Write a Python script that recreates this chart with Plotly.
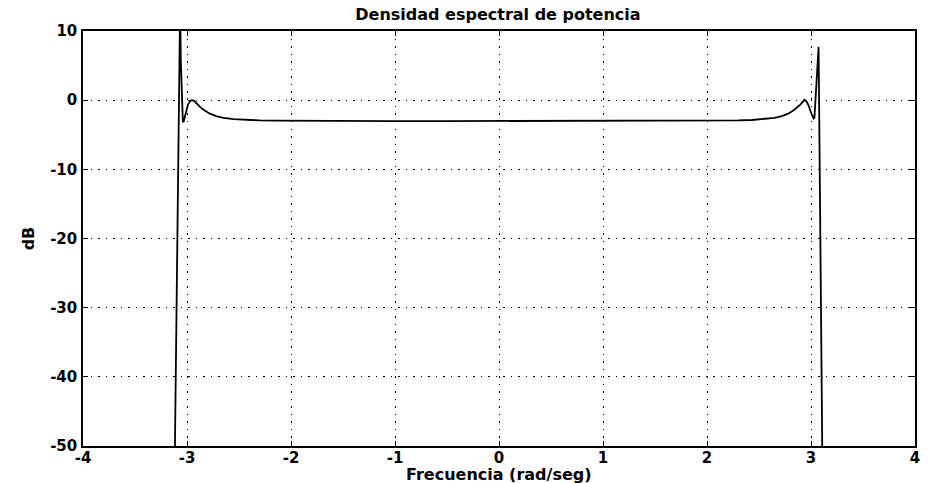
import plotly.graph_objects as go

freq = [-3.116, -3.066, -3.060, -3.050, -3.040, -3.034, -3.025, -3.010, -2.990,
        -2.965, -2.945, -2.925, -2.900, -2.870, -2.830, -2.780, -2.720, -2.650,
        -2.550, -2.430, -2.300, -2.150, -2.000, -1.500, -1.000, -0.500, 0.000,
        0.500, 1.000, 1.500, 2.000, 2.150, 2.300, 2.430, 2.550, 2.650, 2.720,
        2.780, 2.830, 2.870, 2.900, 2.920, 2.937, 2.955, 2.975, 2.995, 3.012,
        3.025, 3.033, 3.042, 3.055, 3.066, 3.073, 3.090, 3.108]
dB = [-50.0, 14.0, 6.0, -1.0, -3.0, -3.2, -2.7, -1.6, -0.6,
      -0.05, 0.0, -0.2, -0.6, -1.05, -1.5, -1.95, -2.3, -2.55,
      -2.75, -2.87, -2.93, -2.97, -2.99, -3.01, -3.02, -3.03, -3.03,
      -3.03, -3.02, -3.01, -2.99, -2.97, -2.93, -2.87, -2.75, -2.55, -2.3,
      -1.95, -1.5, -1.05, -0.6, -0.25, 0.05, -0.15, -0.7, -1.6, -2.3,
      -2.65, -2.55, -0.5, 3.5, 6.5, 7.7, -20.0, -50.0]

xticks = [-4, -3, -2, -1, 0, 1, 2, 3, 4]
yticks = [-50, -40, -30, -20, -10, 0, 10]

FONT = "DejaVu Sans, Liberation Sans, Arial, sans-serif"
TXT = dict(family=FONT, size=16, color="black", weight="bold")
TICK = dict(family=FONT, size=15, color="black", weight="bold")

fig = go.Figure()
fig.add_trace(go.Scatter(x=freq, y=dB, mode="lines",
                         line=dict(color="black", width=1.8),
                         showlegend=False, hoverinfo="skip"))

axis_common = dict(
    showline=True, linecolor="black", linewidth=1.5, mirror="ticks",
    ticks="inside", ticklen=5, tickwidth=1.2, tickcolor="black",
    showgrid=True, gridcolor="black", gridwidth=1, griddash="1.5px,6px",
    zeroline=False, automargin=False,
    tickfont=TICK,
)

fig.update_xaxes(range=[-4, 4], tickvals=xticks, ticktext=[str(t) for t in xticks],
                 ticklabelstandoff=-3, **axis_common)
fig.update_yaxes(range=[-50, 10], tickvals=yticks, ticktext=[str(t) for t in yticks],
                 ticklabelstandoff=1,
                 title=dict(text="dB", font=TXT, standoff=12),
                 **axis_common)

fig.update_layout(
    width=929, height=483,
    margin=dict(l=83, r=14, t=31, b=37),
    paper_bgcolor="white", plot_bgcolor="white",
    font=dict(family=FONT, color="black", size=16),
    title=dict(text="Densidad espectral de potencia", x=0.536, xanchor="center",
               y=0.971, yanchor="middle", font=TXT),
    annotations=[dict(text="Frecuencia (rad/seg)", xref="paper", yref="paper",
                      x=0.5, y=-0.068, xanchor="center", yanchor="middle",
                      showarrow=False, font=TXT)],
)

fig.write_html("out.html", config={"displayModeBar": False},
               post_script="document.body.style.margin='0';")
